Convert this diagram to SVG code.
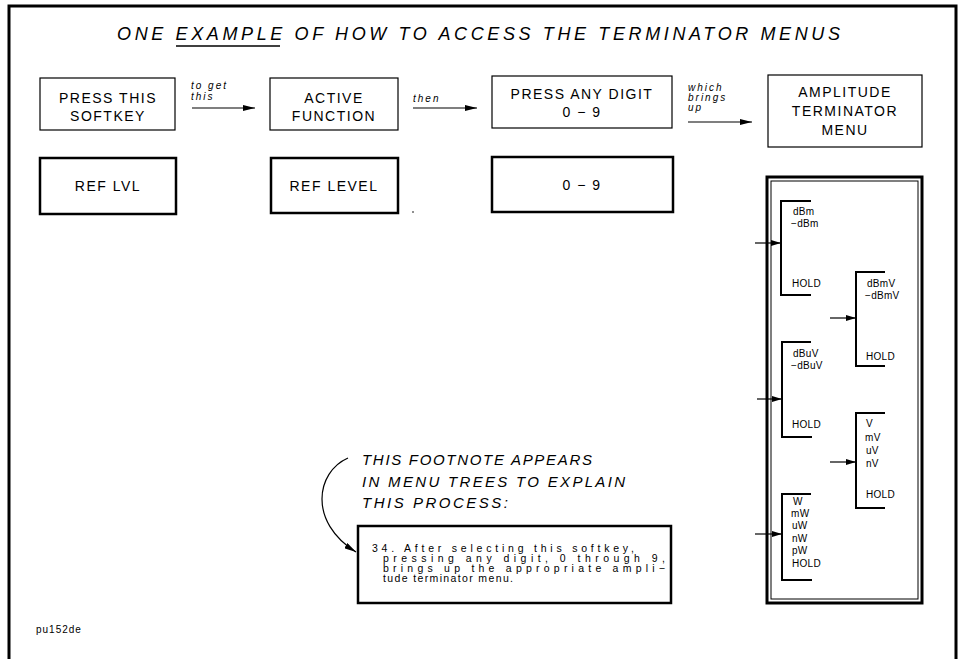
<svg xmlns="http://www.w3.org/2000/svg" width="960" height="659" viewBox="0 0 960 659">
<defs>
<marker id="ah" viewBox="0 0 12 6" refX="12" refY="3" markerWidth="12" markerHeight="6" markerUnits="userSpaceOnUse" orient="auto">
<path d="M0,0 L12,3 L0,6 Z" fill="#000"/>
</marker>
<marker id="ahs" viewBox="0 0 10 6" refX="10" refY="3" markerWidth="10" markerHeight="6" markerUnits="userSpaceOnUse" orient="auto">
<path d="M0,0 L10,3 L0,6 Z" fill="#000"/>
</marker>
</defs>
<style>
text{font-family:"Liberation Sans",Arial,sans-serif;fill:#000}
.t{font-size:18px;font-style:italic;letter-spacing:3px}
.b{font-size:14px;letter-spacing:1.5px;text-anchor:middle}
.l{font-size:10px;font-style:italic;letter-spacing:2px}
.m{font-size:10px;letter-spacing:0.3px}
.f{font-size:15px;font-style:italic}
.n{font-size:10.5px}
.thin{fill:#fff;stroke:#000;stroke-width:1.2}
.thick{fill:#fff;stroke:#000;stroke-width:2.5}
.br{fill:none;stroke:#000;stroke-width:2}
.ar{fill:none;stroke:#000;stroke-width:1.2;marker-end:url(#ah)}
.as{fill:none;stroke:#000;stroke-width:1.2;marker-end:url(#ahs)}
</style>
<rect width="960" height="659" fill="#fff"/>
<path d="M9,659 V6 H956 V659" fill="none" stroke="#000" stroke-width="3"/>
<text class="t" x="117" y="40" textLength="726" lengthAdjust="spacing">ONE EXAMPLE OF HOW TO ACCESS THE TERMINATOR MENUS</text>
<line x1="176" y1="46" x2="280" y2="46" stroke="#000" stroke-width="1.5"/>

<g id="softkey">
<rect class="thin" x="40" y="78" width="135" height="52"/>
<text class="b" x="108" y="103">PRESS THIS</text>
<text class="b" x="108" y="121">SOFTKEY</text>
</g>
<g id="active">
<rect class="thin" x="270" y="78" width="128" height="52"/>
<text class="b" x="334" y="103">ACTIVE</text>
<text class="b" x="334" y="121">FUNCTION</text>
</g>
<g id="digit">
<rect class="thin" x="492" y="76" width="180" height="52"/>
<text class="b" x="582" y="99">PRESS ANY DIGIT</text>
<text class="b" x="582" y="117">0 − 9</text>
</g>
<g id="menu">
<rect class="thin" x="768" y="75" width="154" height="72"/>
<text class="b" x="845" y="97">AMPLITUDE</text>
<text class="b" x="845" y="116">TERMINATOR</text>
<text class="b" x="845" y="135">MENU</text>
</g>
<g id="reflvl">
<rect class="thick" x="40" y="158" width="136" height="56"/>
<text class="b" x="108" y="191">REF LVL</text>
</g>
<g id="reflevel">
<rect class="thick" x="271" y="158" width="127" height="55"/>
<text class="b" x="334" y="191">REF LEVEL</text>
</g>
<circle cx="413" cy="212" r="0.8" fill="#000"/>
<g id="zero9">
<rect class="thick" x="492" y="157" width="181" height="55"/>
<text class="b" x="582" y="190">0 − 9</text>
</g>

<g id="labels">
<text class="l" x="191" y="89">to get</text>
<text class="l" x="191" y="100">this</text>
<text class="l" x="413" y="102">then</text>
<text class="l" x="688" y="91">which</text>
<text class="l" x="688" y="101">brings</text>
<text class="l" x="688" y="111">up</text>
</g>

<g id="menuframe">
<rect x="767" y="177" width="155" height="426" fill="none" stroke="#000" stroke-width="3"/>
<rect x="771" y="181" width="147" height="418" fill="none" stroke="#000" stroke-width="1"/>
</g>
<g id="m-dbm">
<path class="br" d="M811,201 H781 V295 H811"/>
<text class="m" x="793" y="215">dBm</text>
<text class="m" x="791" y="227">−dBm</text>
<text class="m" x="792" y="287">HOLD</text>
</g>
<g id="m-dbuv">
<path class="br" d="M811,342 H782 V437 H812"/>
<text class="m" x="793" y="357">dBuV</text>
<text class="m" x="791" y="369">−dBuV</text>
<text class="m" x="792" y="428">HOLD</text>
</g>
<g id="m-w">
<path class="br" d="M811,494 H782 V580 H812"/>
<text class="m" x="793" y="505">W</text>
<text class="m" x="791" y="517">mW</text>
<text class="m" x="792" y="529">uW</text>
<text class="m" x="792" y="542">nW</text>
<text class="m" x="792" y="554">pW</text>
<text class="m" x="792" y="567">HOLD</text>
</g>
<g id="m-dbmv">
<path class="br" d="M885,272 H856 V366 H885"/>
<text class="m" x="867" y="287">dBmV</text>
<text class="m" x="865" y="299">−dBmV</text>
<text class="m" x="866" y="360">HOLD</text>
</g>
<g id="m-v">
<path class="br" d="M885,413 H856 V508 H885"/>
<text class="m" x="866" y="427">V</text>
<text class="m" x="865" y="441">mV</text>
<text class="m" x="866" y="454">uV</text>
<text class="m" x="866" y="467">nV</text>
<text class="m" x="866" y="498">HOLD</text>
</g>

<g id="footnote-label">
<text class="f" x="362" y="465" textLength="230" lengthAdjust="spacing">THIS FOOTNOTE APPEARS</text>
<text class="f" x="362" y="487" textLength="263" lengthAdjust="spacing">IN MENU TREES TO EXPLAIN</text>
<text class="f" x="362" y="508" textLength="146" lengthAdjust="spacing">THIS PROCESS:</text>
</g>
<g id="footnote">
<rect x="358" y="526" width="313" height="77" fill="#fff" stroke="#000" stroke-width="2.5"/>
<text class="n" x="372" y="552" textLength="262" lengthAdjust="spacing">34. After selecting this softkey,</text>
<text class="n" x="383" y="562" textLength="282" lengthAdjust="spacing">pressing any digit, 0 through 9,</text>
<text class="n" x="383" y="572" textLength="282" lengthAdjust="spacing">brings up the appropriate ampli−</text>
<text class="n" x="383" y="582" textLength="130" lengthAdjust="spacing">tude terminator menu.</text>
</g>

<g id="connectors">
<line class="ar" x1="192" y1="108" x2="255" y2="108"/>
<line class="ar" x1="413" y1="108" x2="477" y2="108"/>
<line class="ar" x1="688" y1="122" x2="752" y2="122"/>
<line class="as" x1="755" y1="243" x2="781" y2="243"/>
<line class="as" x1="757" y1="399" x2="782" y2="399"/>
<line class="as" x1="755" y1="534" x2="782" y2="534"/>
<line class="as" x1="830" y1="318" x2="856" y2="318"/>
<line class="as" x1="830" y1="462" x2="856" y2="462"/>
<path class="ar" d="M348,458 C316,472 308,522 356,552"/>
</g>

<text class="m" x="36" y="633" style="letter-spacing:1px">pu152de</text>
</svg>
